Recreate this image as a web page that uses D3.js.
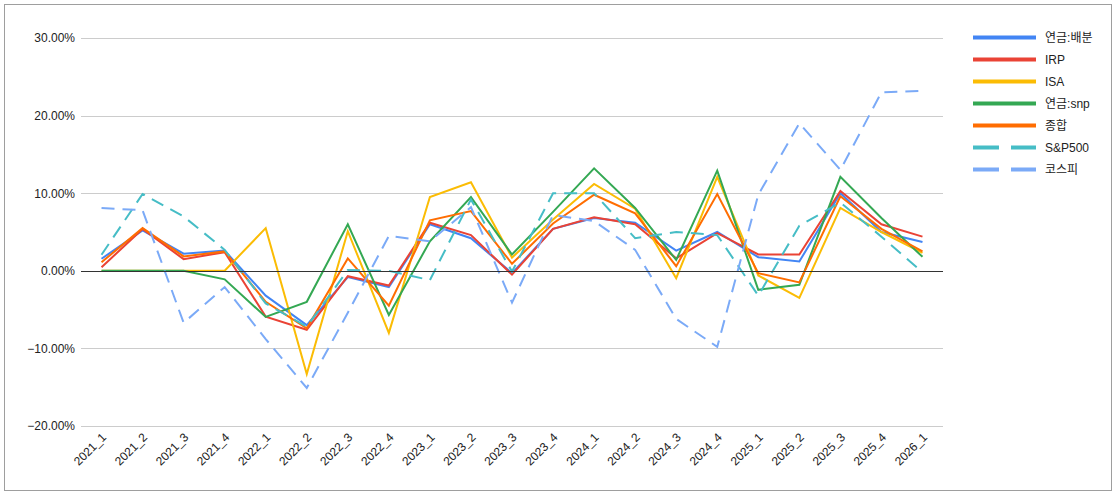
<!DOCTYPE html>
<html><head><meta charset="utf-8">
<script src="https://cdn.jsdelivr.net/npm/d3@7"></script>
<style>
body{margin:0;background:#fff;}
svg{display:block;font-family:"Liberation Sans",Arial,"Noto Sans CJK KR",sans-serif;}
</style></head>
<body>
<svg id="chart" width="1120" height="494"></svg>
<script>
const categories = ["2021_1","2021_2","2021_3","2021_4","2022_1","2022_2","2022_3","2022_4","2023_1","2023_2","2023_3","2023_4","2024_1","2024_2","2024_3","2024_4","2025_1","2025_2","2025_3","2025_4","2026_1"];
const seriesNames = ["연금:배분","IRP","ISA","연금:snp","종합","S&P500","코스피"];
const pensionAlloc = [1.55,5.2,2.2,2.6,-3.2,-7.0,-0.8,-2.1,6.0,4.2,-0.3,5.4,6.8,6.2,2.6,5.0,1.75,1.2,10.0,5.0,3.7];
const irp = [0.45,5.4,1.5,2.4,-5.9,-7.6,-0.7,-1.9,6.2,4.6,-0.5,5.4,6.9,6.0,1.6,4.85,2.1,2.1,10.3,6.0,4.4];
const isa = [0,0,0,0,5.5,-13.3,5.1,-8.0,9.5,11.4,1.7,6.6,11.2,8.0,-0.95,12.1,-0.6,-3.5,8.1,5.0,2.3];
const pensionSnp = [0,0,0,-1.1,-5.95,-4.0,6.0,-5.7,3.8,9.5,2.1,7.6,13.2,8.1,1.4,12.9,-2.45,-1.8,12.1,6.8,1.8];
const general = [1.1,5.5,1.85,2.5,-4.0,-7.4,1.6,-4.5,6.5,7.7,0.9,6.1,9.8,7.4,0.6,9.9,-0.3,-1.5,9.6,5.4,2.5];
const sp500 = [2.06,9.9,7.0,2.7,-4.2,-7.2,0.1,0.0,-1.2,9.2,-0.1,10.0,10.0,4.2,5.0,4.6,-3.2,5.8,8.8,4.4,-0.2];
const kospi = [8.1,7.8,-6.7,-2.1,-8.8,-15.1,-5.4,4.5,3.8,8.2,-4.1,7.2,6.4,2.7,-6.2,-9.8,9.8,19.0,13.0,23.0,23.2];
const yTicks = [-20,-10,0,10,20,30];

const seriesValues = [pensionAlloc,irp,isa,pensionSnp,general,sp500,kospi];
const colors = ["#4285F4","#EA4335","#FBBC04","#34A853","#FF6D01","#46BDC6","#7BAAF7"];
const dashed = [false,false,false,false,false,true,true];

(function(){
const svg = d3.select("#chart");
svg.append("rect").attr("x",4.5).attr("y",4.5).attr("width",1107).attr("height",486)
  .attr("fill","#fff").attr("stroke","#9e9e9e").attr("stroke-width",1);

const pLeft = 81, pRight = 943, pTop = 38, pBottom = 426;
const x = d3.scalePoint().domain(categories).range([pLeft,pRight]).padding(0.5);
const y = d3.scaleLinear().domain([-20,30]).range([pBottom,pTop]);

svg.append("g").selectAll("line").data(yTicks.filter(t=>t!==0)).join("line")
  .attr("x1",pLeft).attr("x2",pRight).attr("y1",d=>Math.round(y(d))+0.5).attr("y2",d=>Math.round(y(d))+0.5)
  .attr("stroke","#cccccc").attr("stroke-width",1);

const yAxis = d3.axisLeft(y).tickValues(yTicks).tickSize(0).tickPadding(6)
  .tickFormat(d=>d3.format(".2f")(d)+"%");
const ya = svg.append("g").attr("transform",`translate(${pLeft},0)`).call(yAxis);
ya.select(".domain").remove();
ya.selectAll("text").attr("font-size",12).attr("fill","#222").attr("font-family","Liberation Sans, Arial, sans-serif");

const xAxis = d3.axisBottom(x).tickSize(0).tickPadding(0);
const xa = svg.append("g").attr("transform",`translate(0,${pBottom})`).call(xAxis);
xa.select(".domain").remove();
xa.selectAll("text").attr("font-size",12).attr("fill","#222")
  .attr("text-anchor","end").attr("dy",0)
  .attr("font-family","Liberation Sans, Arial, sans-serif")
  .attr("transform","translate(5,12) rotate(-45)");

const line = d3.line().x((d,i)=>x(categories[i])).y(d=>y(d));
const lg = svg.append("g");
seriesValues.forEach((vals,k)=>{
  lg.append("path").datum(vals).attr("d",line)
    .attr("fill","none").attr("stroke",colors[k]).attr("stroke-width",2)
    .attr("stroke-linejoin","miter")
    .attr("stroke-dasharray",dashed[k]?"13,8":null);
});

svg.append("line").attr("x1",pLeft).attr("x2",pRight).attr("y1",Math.round(y(0))+0.5).attr("y2",Math.round(y(0))+0.5)
  .attr("stroke","#333").attr("stroke-width",1);

const leg = svg.append("g");
seriesNames.forEach((name,k)=>{
  const ly = 37.5 + k*22;
  leg.append("line").attr("x1",973).attr("x2",1036).attr("y1",ly).attr("y2",ly)
    .attr("stroke",colors[k]).attr("stroke-width",4)
    .attr("stroke-dasharray",dashed[k]?"26,12":null);
  leg.append("text").attr("x",1045).attr("y",ly).attr("dy","0.35em")
    .attr("font-size",12).attr("fill","#222")
    .attr("font-family","Liberation Sans, Arial, 'Noto Sans CJK KR', sans-serif")
    .text(name);
});
})();
</script>
</body></html>
